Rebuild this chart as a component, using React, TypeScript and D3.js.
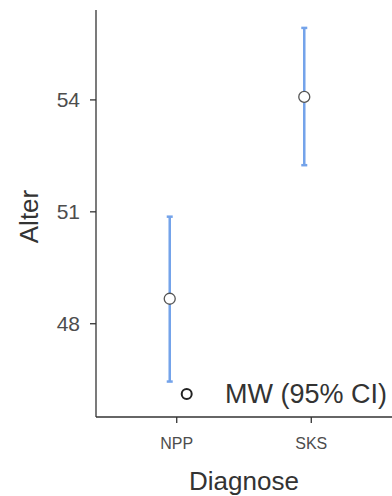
import React from 'react';
import * as d3 from 'd3';

// Group means with 95% confidence intervals (age by diagnosis)
const categories = ['NPP', 'SKS'];
const means = [48.67, 54.08];
const lowerCI = [46.45, 52.25];
const upperCI = [50.87, 55.93];
const yTicks = [48, 51, 54];

const WIDTH = 392;
const HEIGHT = 496;
const BAR_COLOR = '#74A3EA';
const TEXT_COLOR = '#4d4d4d';
const FONT = 'Arial, "Liberation Sans", sans-serif';

export default function App() {
  const margin = { top: 10, right: 0, bottom: 79, left: 96 };
  const innerWidth = WIDTH - margin.left - margin.right;
  const innerHeight = HEIGHT - margin.top - margin.bottom;

  const yScale = d3.scaleLinear().domain([45.5, 56.41]).range([innerHeight, 0]);

  // discrete axis with ggplot-like 0.6 expansion
  const xScale = d3.scalePoint<string>()
    .domain(categories)
    .range([0, innerWidth])
    .padding(0.6);

  const dodge = -7;

  return (
    <svg width={WIDTH} height={HEIGHT} style={{ position: 'absolute', left: 0, top: 0 }}
      fontFamily={FONT}>
      <g transform={`translate(${margin.left},${margin.top})`}>
        {/* axes */}
        <line x1={0} x2={0} y1={0} y2={innerHeight} stroke="#333" strokeWidth={1.3} />
        <line x1={0} x2={innerWidth} y1={innerHeight} y2={innerHeight} stroke="#333" strokeWidth={1.3} />

        {yTicks.map(t => (
          <g key={t} transform={`translate(0,${yScale(t)})`}>
            <line x1={-6} x2={0} stroke="#333" strokeWidth={1.3} />
            <text x={-16} dy="0.35em" textAnchor="end" fontSize={21} fill={TEXT_COLOR}>{t}</text>
          </g>
        ))}

        {categories.map(c => (
          <g key={c} transform={`translate(${xScale(c)},${innerHeight})`}>
            <line y1={0} y2={6} stroke="#333" strokeWidth={1.3} />
            <text y={32} textAnchor="middle" fontSize={16} fill={TEXT_COLOR}>{c}</text>
          </g>
        ))}

        {/* error bars */}
        {categories.map((c, i) => {
          const x = (xScale(c) ?? 0) + dodge;
          return (
            <g key={c}>
              <line x1={x} x2={x} y1={yScale(lowerCI[i])} y2={yScale(upperCI[i])}
                stroke={BAR_COLOR} strokeWidth={2.5} />
              <line x1={x - 3} x2={x + 3} y1={yScale(lowerCI[i])} y2={yScale(lowerCI[i])}
                stroke={BAR_COLOR} strokeWidth={2.5} />
              <line x1={x - 3} x2={x + 3} y1={yScale(upperCI[i])} y2={yScale(upperCI[i])}
                stroke={BAR_COLOR} strokeWidth={2.5} />
              <circle cx={x} cy={yScale(means[i])} r={5.5} fill="white" stroke="#555" strokeWidth={1.3} />
            </g>
          );
        })}

        {/* legend */}
        <circle cx={90.7} cy={384} r={5} fill="white" stroke="#222" strokeWidth={2} />
        <text x={129} y={384} dy="0.35em" fontSize={27} fill="#333">MW (95% CI)</text>

        {/* axis titles */}
        <text x={148} y={HEIGHT - margin.top - 6} textAnchor="middle" fontSize={26} fill="#333">Diagnose</text>
        <text transform={`translate(${-58},${innerHeight / 2 + 3}) rotate(-90)`} textAnchor="middle"
          fontSize={26} fill="#333">Alter</text>
      </g>
    </svg>
  );
}
